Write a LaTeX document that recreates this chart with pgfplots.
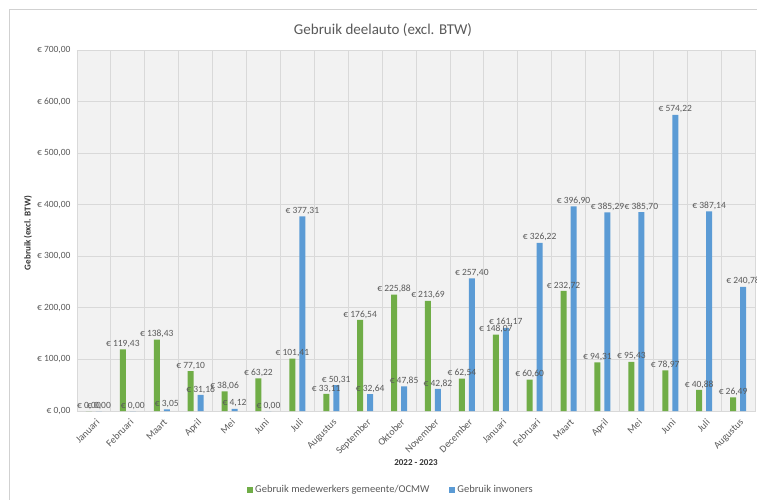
\documentclass[border=0pt]{standalone}
\usepackage{pgfplots}
\pgfplotsset{compat=1.18}
\usepackage{fontspec}
\setmainfont{Carlito}
\definecolor{cgreen}{HTML}{70AD47}
\definecolor{cblue}{HTML}{5B9BD5}
\definecolor{ctext}{HTML}{595959}
\definecolor{cgrid}{HTML}{D9D9D9}
\begin{document}
\begin{tikzpicture}[x=1pt,y=1pt]
\useasboundingbox (-77pt,-89pt) rectangle (680pt,411pt);
\draw[black!18, line width=1pt] (-67pt,401pt) rectangle (700pt,-100pt);
\begin{axis}[
  at={(0pt,0pt)}, anchor=south west,
  scale only axis, width=678pt, height=361pt,
  ybar,
  bar width=6pt,
  xmin=-0.5, xmax=19.5, ymin=0, ymax=700,
  /pgf/number format/assume math mode=true,
  axis background/.style={fill=black!5},
  axis line style={cgrid},
  tick style={draw=none},
  xtick={0,...,19},
  xticklabels={Januari,Februari,Maart,April,Mei,Juni,Juli,Augustus,September,Oktober,November,December,Januari,Februari,Maart,April,Mei,Juni,Juli,Augustus},
  xticklabel style={rotate=45, anchor=north east, font=\fontsize{10}{11}\selectfont, text=ctext, inner sep=1pt, yshift=-2pt},
  minor xtick={-0.5,0.5,...,19.5},
  minor x grid style={cgrid, line width=0.8pt},
  xminorgrids=true,
  ytick={0,100,...,700},
  yticklabel={€~\pgfmathprintnumber[fixed,fixed zerofill,precision=2,use comma]{\tick}},
  yticklabel style={font=\fontsize{9.5}{10}\selectfont, text=ctext, xshift=-3pt},
  ymajorgrids=true,
  major grid style={cgrid, line width=0.8pt},
  nodes near coords={€~\pgfmathprintnumber[fixed,fixed zerofill,precision=2,use comma]{\pgfplotspointmeta}},
  every node near coord/.append style={font=\fontsize{9.5}{10}\selectfont, text=ctext, inner sep=1.5pt},
  legend style={at={(0.463,-0.219)}, anchor=center, draw=none, fill=none, legend columns=2,
    font=\fontsize{10.5}{12}\selectfont, text=ctext, /tikz/every even column/.append style={column sep=18pt}},
  legend image code/.code={\fill[#1] (0pt,-3pt) rectangle (6pt,3pt);},
  clip=false,
]
\addplot[fill=cgreen, draw=none, bar shift=-5pt] coordinates {
(0,0) (1,119.43) (2,138.43) (3,77.10) (4,38.06) (5,63.22) (6,101.41) (7,33.11) (8,176.54) (9,225.88)
(10,213.69) (11,62.54) (12,148.07) (13,60.60) (14,232.72) (15,94.31) (16,95.43) (17,78.97) (18,40.88) (19,26.49)};
\addlegendentry{Gebruik medewerkers gemeente/OCMW}
\addplot[fill=cblue, draw=none, bar shift=5pt] coordinates {
(0,0) (1,0) (2,3.05) (3,31.16) (4,4.12) (5,0) (6,377.31) (7,50.31) (8,32.64) (9,47.85)
(10,42.82) (11,257.40) (12,161.17) (13,326.22) (14,396.90) (15,385.29) (16,385.70) (17,574.22) (18,387.14) (19,240.78)};
\addlegendentry{Gebruik inwoners}
\end{axis}
\node[font=\fontsize{15}{17}\selectfont, text=ctext] at (306pt,381pt) {Gebruik deelauto (excl. BTW)};
\node[font=\fontsize{9}{10}\selectfont\bfseries, text=black!80, rotate=90] at (-49pt,178pt) {Gebruik (excl. BTW)};
\node[font=\fontsize{9}{10}\selectfont\bfseries, text=black!80] at (339pt,-52pt) {2022 - 2023};
\end{tikzpicture}
\end{document}
